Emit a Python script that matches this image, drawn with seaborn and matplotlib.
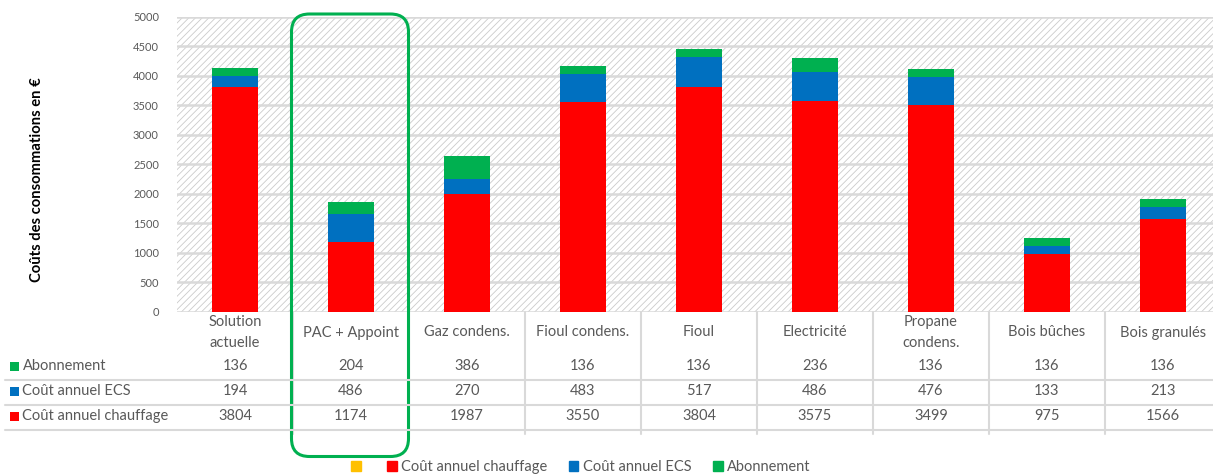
import numpy as np
import pandas as pd
import matplotlib.pyplot as plt
import matplotlib.transforms as mtransforms
from matplotlib.patches import Rectangle, FancyBboxPatch, Patch
import seaborn as sns

# data
categories = ["Solution\nactuelle", "PAC + Appoint", "Gaz condens.", "Fioul condens.",
              "Fioul", "Electricité", "Propane\ncondens.", "Bois bûches", "Bois granulés"]
chauffage = [3804, 1174, 1987, 3550, 3804, 3575, 3499, 975, 1566]
ecs = [194, 486, 270, 483, 517, 486, 476, 133, 213]
abonnement = [136, 204, 386, 136, 136, 236, 136, 136, 136]

series_names = ["Abonnement", "Coût annuel ECS", "Coût annuel chauffage"]
RED, BLUE, GREEN, YELLOW = "#ff0000", "#0070c0", "#00b050", "#ffc000"
GREY_TXT = "#595959"
GRID = "#d9d9d9"

W, H = 1213, 475


def fy(py):
    # pixel from top -> figure fraction
    return 1 - py / H


def main():
    sns.set_style("white")
    plt.rcParams["font.family"] = ["Lato", "DejaVu Sans"]
    plt.rcParams["hatch.linewidth"] = 0.6

    df = pd.DataFrame({"cat": categories, "chauffage": chauffage, "ecs": ecs, "abonnement": abonnement})
    df["ecs_top"] = df["chauffage"] + df["ecs"]
    df["total"] = df["ecs_top"] + df["abonnement"]

    fig = plt.figure(figsize=(W / 100, H / 100), dpi=100)
    ax = fig.add_axes([177 / W, fy(311.7), 1044 / W, 295 / H])

    # hatched background of the plot area
    ax.add_patch(Rectangle((0, 0), 1, 1, transform=ax.transAxes, facecolor="white",
                           edgecolor="#cbcbcb", hatch="/////", linewidth=0, zorder=0.1))

    # stacked bars via cumulative overlays
    for col, colour in [("total", GREEN), ("ecs_top", BLUE), ("chauffage", RED)]:
        sns.barplot(data=df, x="cat", y=col, color=colour, saturation=1, width=0.4, ax=ax,
                    zorder=2, linewidth=0, edgecolor="none")

    ax.set_ylim(0, 5000)
    ax.set_xlim(-0.5, len(categories) - 0.5)
    ax.set_yticks(np.arange(0, 5001, 500))
    ax.yaxis.grid(True, color=GRID, linewidth=1.8)
    ax.set_axisbelow(True)
    for g in ax.get_ygridlines():
        g.set_zorder(0.5)
    ax.tick_params(axis="y", length=0, pad=13, labelsize=8, labelcolor=GREY_TXT)
    ax.set_xticks([])
    ax.set_xlabel("")
    ax.set_ylabel("")
    sns.despine(ax=ax, left=True, bottom=True)

    fig.text(37 / W, fy(180), "Coûts des consommations en €", rotation=90, ha="center",
             va="center", fontsize=10.6, fontweight="bold", color="black")

    # data table under the chart
    tr = mtransforms.blended_transform_factory(ax.transData, fig.transFigure)
    for i, c in enumerate(categories):
        ax.text(i, fy(332.5), c, transform=tr, ha="center", va="center", fontsize=10.5,
                color=GREY_TXT, linespacing=1.6, clip_on=False)
    rows = [(abonnement, GREEN, 366), (ecs, BLUE, 391), (chauffage, RED, 416)]
    for (vals, col, py), name in zip(rows, series_names):
        for i, v in enumerate(vals):
            ax.text(i, fy(py), str(v), transform=tr, ha="center", va="center", fontsize=10.5,
                    color=GREY_TXT, clip_on=False)
        fig.patches.append(Rectangle((10 / W, fy(py + 4.5)), 9 / W, 9 / H, transform=fig.transFigure,
                                     facecolor=col, edgecolor="none"))
        fig.text(22.5 / W, fy(py), name, ha="left", va="center", fontsize=10.5, color=GREY_TXT)

    for py in [380, 404.5, 430]:
        fig.add_artist(plt.Line2D([5 / W, 1], [fy(py), fy(py)], color=GRID, linewidth=1.5))
    for k in range(len(categories) - 1):
        ax.plot([k + 0.5, k + 0.5], [fy(312), fy(434)], transform=tr, color=GRID,
                linewidth=1.5, clip_on=False)

    # highlight box around PAC + Appoint
    fig.patches.append(FancyBboxPatch((291.5, H - 456.5), 117, 442.5,
                                      boxstyle="round,pad=0,rounding_size=18",
                                      transform=mtransforms.IdentityTransform(),
                                      facecolor="none", edgecolor=GREEN, linewidth=2.2))

    handles = [Patch(color=YELLOW), Patch(color=RED), Patch(color=BLUE), Patch(color=GREEN)]
    labels = ["", "Coût annuel chauffage", "Coût annuel ECS", "Abonnement"]
    fig.legend(handles, labels, loc="center", bbox_to_anchor=(581 / W, fy(467)), ncol=4,
               frameon=False, fontsize=10.5, labelcolor=GREY_TXT, handlelength=0.65,
               handleheight=0.65, handletextpad=0.3, columnspacing=1.5, borderpad=0)

    fig.savefig("out.png", dpi=100)


if __name__ == "__main__":
    main()
